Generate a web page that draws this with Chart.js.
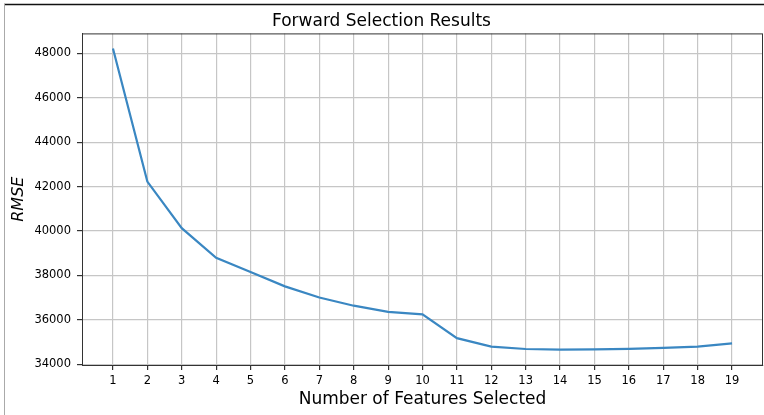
<!DOCTYPE html>
<html>
<head>
<meta charset="utf-8">
<script src="https://cdn.jsdelivr.net/npm/chart.js@4/dist/chart.umd.min.js"></script>
<style>
  html, body { margin: 0; padding: 0; background: #fff; }
  #wrap { width: 764px; height: 415px; position: relative; }
</style>
</head>
<body>
<div id="wrap"><canvas id="c"></canvas></div>
<script>
// Number of features in the model at each forward-selection step
const featureCounts = [1, 2, 3, 4, 5, 6, 7, 8, 9, 10, 11, 12, 13, 14, 15, 16, 17, 18, 19];
// Cross-validated RMSE for each step
const rmseValues = [48220, 42230, 40130, 38800, 38160, 37510, 37010, 36640, 36360, 36250,
                    35180, 34800, 34690, 34660, 34670, 34700, 34740, 34800, 34940];
const xTickValues = featureCounts;
const yTickValues = [34000, 36000, 38000, 40000, 42000, 44000, 46000, 48000];

const FONT = "'DejaVu Sans', sans-serif";

// Full box around the plot area plus the thin outer page frame
const framePlugin = {
  id: 'frame',
  afterDraw(chart) {
    const { ctx, chartArea: a } = chart;
    ctx.save();
    ctx.strokeStyle = '#333';
    ctx.lineWidth = 1;
    ctx.strokeRect(a.left + 0.5, a.top + 0.5, a.right - a.left - 1, a.bottom - a.top);
    ctx.strokeStyle = '#111';
    ctx.lineWidth = 1.5;
    ctx.beginPath();
    ctx.moveTo(4, 4.5);
    ctx.lineTo(764, 4.5);
    ctx.stroke();
    ctx.strokeStyle = '#aaa';
    ctx.lineWidth = 1;
    ctx.beginPath();
    ctx.moveTo(4.5, 4);
    ctx.lineTo(4.5, 415);
    ctx.stroke();
    ctx.restore();
  }
};

new Chart(document.getElementById('c'), {
  type: 'line',
  data: {
    datasets: [{
      data: featureCounts.map((n, i) => ({ x: n, y: rmseValues[i] })),
      borderColor: '#3a87c2',
      borderWidth: 2.2,
      pointRadius: 0,
      tension: 0,
      fill: false
    }]
  },
  options: {
    responsive: true,
    maintainAspectRatio: false,
    animation: false,
    layout: { padding: { left: 0, right: 1, top: 0, bottom: 0 } },
    plugins: {
      legend: { display: false },
      tooltip: { enabled: false },
      title: {
        display: true,
        text: 'Forward Selection Results',
        color: '#000',
        font: { family: FONT, size: 17, weight: 'normal' },
        padding: { top: 11, bottom: 2 }
      }
    },
    scales: {
      x: {
        type: 'linear',
        min: 0.1,
        max: 19.9,
        afterBuildTicks(scale) { scale.ticks = xTickValues.map(v => ({ value: v })); },
        afterFit(scale) { scale.height = 50; },
        ticks: {
          color: '#000',
          font: { family: FONT, size: 11.5 },
          padding: 4,
          maxRotation: 0,
          autoSkip: false,
          callback: v => String(v)
        },
        grid: { color: '#c6c6c6', lineWidth: 1.2, tickColor: '#333', tickLength: 5 },
        border: { color: '#333', width: 1 },
        title: {
          display: true,
          text: 'Number of Features Selected',
          color: '#000',
          font: { family: FONT, size: 17 },
          padding: { top: 0, bottom: 5 }
        }
      },
      y: {
        type: 'linear',
        min: 33970,
        max: 48900,
        afterBuildTicks(scale) { scale.ticks = yTickValues.map(v => ({ value: v })); },
        afterFit(scale) { scale.width = 82; },
        ticks: {
          color: '#000',
          font: { family: FONT, size: 11.5 },
          padding: 6,
          callback: v => String(v)
        },
        grid: { color: '#c6c6c6', lineWidth: 1.2, tickColor: '#333', tickLength: 5 },
        border: { color: '#333', width: 1 },
        title: {
          display: true,
          text: 'RMSE',
          color: '#000',
          font: { family: FONT, size: 16, style: 'italic' },
          padding: { top: 9, bottom: 0 }
        }
      }
    }
  },
  plugins: [framePlugin]
});
</script>
</body>
</html>
